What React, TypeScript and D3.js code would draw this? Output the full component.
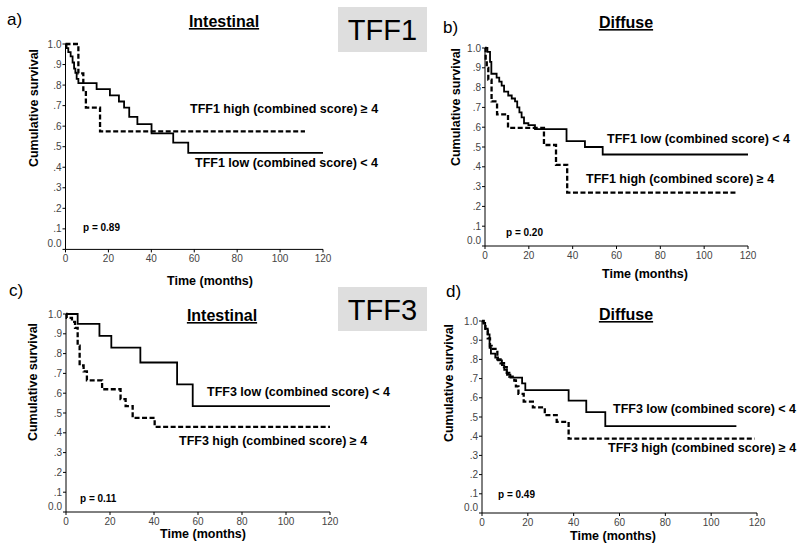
import React from "react";
import * as d3 from "d3";

// ---------- data ----------
const xTicks = [0, 20, 40, 60, 80, 100, 120];
const yTicks = [0, 0.1, 0.2, 0.3, 0.4, 0.5, 0.6, 0.7, 0.8, 0.9, 1.0];
const yTickLabels = ["0.0", ".1", ".2", ".3", ".4", ".5", ".6", ".7", ".8", ".9", "1.0"];

// Panel a: TFF1, intestinal
const aLowTimes = [0, 0.5, 1.3, 2.4, 3.3, 4.0, 4.6, 5.2, 6.0, 14.5, 20.7, 24.9, 27.3, 29.7, 33.5, 40.1, 50.2, 57.2];
const aLowSurv = [1.0, 0.98, 0.96, 0.94, 0.91, 0.88, 0.86, 0.83, 0.81, 0.78, 0.75, 0.72, 0.69, 0.645, 0.61, 0.565, 0.52, 0.47];
const aLowEnd = 120;
const aHighTimes = [0, 6.0, 8.3, 9.5, 16.1];
const aHighSurv = [1.0, 0.857, 0.776, 0.69, 0.575];
const aHighEnd = 111.6;

// Panel b: TFF1, diffuse
const bLowTimes = [0, 1.1, 2.3, 2.9, 5.3, 6.5, 7.6, 8.7, 10.6, 12.2, 13.7, 14.7, 15.7, 16.7, 17.8, 19.8, 22.8, 37.2, 45.6, 53.7];
const bLowSurv = [1.0, 0.98, 0.93, 0.87, 0.85, 0.83, 0.81, 0.78, 0.76, 0.745, 0.73, 0.70, 0.675, 0.65, 0.62, 0.61, 0.59, 0.53, 0.50, 0.462];
const bLowEnd = 120;
const bHighTimes = [0, 0.3, 0.8, 1.5, 3.0, 5.5, 10.5, 26.9, 32.4, 37.5];
const bHighSurv = [1.0, 0.94, 0.90, 0.84, 0.73, 0.665, 0.597, 0.51, 0.41, 0.27];
const bHighEnd = 115;

// Panel c: TFF3, intestinal
const cLowTimes = [0, 5.3, 15.2, 20.6, 33.8, 50.5, 57.6];
const cLowSurv = [1.0, 0.95, 0.89, 0.83, 0.755, 0.645, 0.535];
const cLowEnd = 120;
const cHighTimes = [0, 0.3, 2.7, 4.1, 5.3, 6.2, 8.0, 9.5, 16.4, 24.8, 27.1, 30.3, 40.3];
const cHighSurv = [1.0, 0.98, 0.96, 0.93, 0.84, 0.74, 0.71, 0.665, 0.62, 0.57, 0.535, 0.475, 0.43];
const cHighEnd = 120;

// Panel d: TFF3, diffuse
const dLowTimes = [0, 0.7, 1.4, 2.5, 3.3, 3.9, 5.8, 7.0, 8.7, 9.7, 10.9, 12.4, 17.5, 18.9, 37.8, 45.5, 53.8];
const dLowSurv = [1.0, 0.99, 0.96, 0.93, 0.86, 0.83, 0.81, 0.795, 0.77, 0.745, 0.72, 0.705, 0.675, 0.64, 0.585, 0.525, 0.452];
const dLowEnd = 111;
const dHighTimes = [0, 0.7, 1.5, 2.5, 3.5, 4.2, 6.7, 8.1, 9.6, 10.8, 11.9, 14.1, 14.8, 15.9, 18.2, 22.2, 27.4, 32.6, 37.8];
const dHighSurv = [1.0, 0.98, 0.95, 0.91, 0.87, 0.855, 0.80, 0.78, 0.76, 0.73, 0.71, 0.69, 0.66, 0.62, 0.58, 0.55, 0.51, 0.475, 0.387];
const dHighEnd = 119;

const pValues = ["p = 0.89", "p = 0.20", "p = 0.11", "p = 0.49"];
const panelLetters = ["a)", "b)", "c)", "d)"];
const panelTitles = ["Intestinal", "Diffuse", "Intestinal", "Diffuse"];
const lowLabels = [
  "TFF1 low (combined score) < 4",
  "TFF1 low (combined score) < 4",
  "TFF3 low (combined score) < 4",
  "TFF3 low (combined score) < 4",
];
const highLabels = [
  "TFF1 high (combined score) ≥ 4",
  "TFF1 high (combined score) ≥ 4",
  "TFF3 high (combined score) ≥ 4",
  "TFF3 high (combined score) ≥ 4",
];
const markerLabels = ["TFF1", "TFF3"];

const FONT = "'Liberation Sans', Arial, Helvetica, sans-serif";

type Curve = { times: number[]; surv: number[]; end: number };

const curves: { low: Curve; high: Curve }[] = [
  { low: { times: aLowTimes, surv: aLowSurv, end: aLowEnd }, high: { times: aHighTimes, surv: aHighSurv, end: aHighEnd } },
  { low: { times: bLowTimes, surv: bLowSurv, end: bLowEnd }, high: { times: bHighTimes, surv: bHighSurv, end: bHighEnd } },
  { low: { times: cLowTimes, surv: cLowSurv, end: cLowEnd }, high: { times: cHighTimes, surv: cHighSurv, end: cHighEnd } },
  { low: { times: dLowTimes, surv: dLowSurv, end: dLowEnd }, high: { times: dHighTimes, surv: dHighSurv, end: dHighEnd } },
];

// layout per panel (pixels)
const layouts = [
  { x0: 65.5, x1: 323, yTop: 44, yBot: 249.4,
    letter: [7, 25], title: [224, 27], time: [210, 285], ylab: [33, 108], p: [83, 231],
    low: [195, 167], high: [190, 113] },
  { x0: 485, x1: 748, yTop: 48, yBot: 246,
    letter: [443, 33], title: [626, 28], time: [645, 278], ylab: [455, 107], p: [506, 236],
    low: [607, 143], high: [586, 183] },
  { x0: 66, x1: 330, yTop: 314, yBot: 512,
    letter: [9, 296], title: [222, 321], time: [203, 538], ylab: [32, 382], p: [80, 502],
    low: [207, 396], high: [179, 445] },
  { x0: 482, x1: 757, yTop: 321, yBot: 513,
    letter: [446, 297], title: [626, 320], time: [613, 540], ylab: [448, 383], p: [498, 498],
    low: [613, 413], high: [608, 452] },
];

const markerBoxes = [
  { x: 338, y: 7, w: 89, h: 45, tx: 382.5, ty: 40 },
  { x: 338, y: 287, w: 89, h: 44, tx: 382.5, ty: 320 },
];

function Panel({ i }: { i: number }) {
  const L = layouts[i];
  const x = d3.scaleLinear().domain([0, 120]).range([L.x0, L.x1]);
  const y = d3.scaleLinear().domain([0, 1]).range([L.yBot, L.yTop]);
  const line = d3
    .line<[number, number]>()
    .x((d) => x(d[0]))
    .y((d) => y(d[1]))
    .curve(d3.curveStepAfter);
  const pts = (c: Curve): [number, number][] => {
    const p: [number, number][] = c.times.map((t, k) => [t, c.surv[k]]);
    p.push([c.end, c.surv[c.surv.length - 1]]);
    return p;
  };
  const C = curves[i];
  return (
    <g>
      <text x={L.letter[0]} y={L.letter[1]} fontSize={17} fontFamily={FONT}>{panelLetters[i]}</text>
      <text x={L.title[0]} y={L.title[1]} fontSize={16} fontWeight="bold" fontFamily={FONT}
        textAnchor="middle" style={{ textDecoration: "underline" }}>{panelTitles[i]}</text>
      {/* axes */}
      <line x1={L.x0} x2={L.x0} y1={y(1)} y2={y(0)} stroke="#000" strokeWidth={1} />
      <line x1={L.x0} x2={L.x1} y1={y(0)} y2={y(0)} stroke="#000" strokeWidth={1} />
      {yTicks.map((t, k) => (
        <g key={"y" + k}>
          <line x1={L.x0 - 3} x2={L.x0} y1={y(t)} y2={y(t)} stroke="#000" strokeWidth={1} />
          <text x={L.x0 - 4} y={y(t) + (t === 0 ? -2 : 3.5)} fontSize={10} fill="#444"
            textAnchor="end" fontFamily={FONT}>{yTickLabels[k]}</text>
        </g>
      ))}
      {xTicks.map((t) => (
        <g key={"x" + t}>
          <line x1={x(t)} x2={x(t)} y1={y(0)} y2={y(0) + 3} stroke="#000" strokeWidth={1} />
          <text x={x(t)} y={y(0) + 13} fontSize={10} fill="#444" textAnchor="middle"
            fontFamily={FONT}>{t}</text>
        </g>
      ))}
      <text x={L.time[0]} y={L.time[1]} fontSize={12.5} fontWeight="bold" textAnchor="middle"
        fontFamily={FONT}>Time (months)</text>
      <text transform={`translate(${L.ylab[0] + 4.5},${L.ylab[1]}) rotate(-90)`} fontSize={12.5}
        fontWeight="bold" textAnchor="middle" fontFamily={FONT}>Cumulative survival</text>
      <text x={L.p[0]} y={L.p[1]} fontSize={10} fontWeight="bold" fontFamily={FONT}>{pValues[i]}</text>
      {/* curves */}
      <path d={line(pts(C.high)) || ""} fill="none" stroke="#000" strokeWidth={2.3}
        strokeDasharray="5,2.5" />
      <path d={line(pts(C.low)) || ""} fill="none" stroke="#000" strokeWidth={1.8} />
      <text x={L.low[0]} y={L.low[1]} fontSize={12.5} fontWeight="bold" fontFamily={FONT}>{lowLabels[i]}</text>
      <text x={L.high[0]} y={L.high[1]} fontSize={12.5} fontWeight="bold" fontFamily={FONT}>{highLabels[i]}</text>
    </g>
  );
}

export default function App() {
  return (
    <svg width={800} height={548} style={{ position: "absolute", left: 0, top: 0, background: "#fff" }}>
      <rect x={0} y={0} width={800} height={548} fill="#fff" />
      {markerBoxes.map((b, k) => (
        <g key={k}>
          <rect x={b.x} y={b.y} width={b.w} height={b.h} fill="#dedede" />
          <text x={b.tx} y={b.ty} fontSize={29} textAnchor="middle" fontFamily={FONT}>{markerLabels[k]}</text>
        </g>
      ))}
      {[0, 1, 2, 3].map((i) => (
        <Panel key={i} i={i} />
      ))}
    </svg>
  );
}
